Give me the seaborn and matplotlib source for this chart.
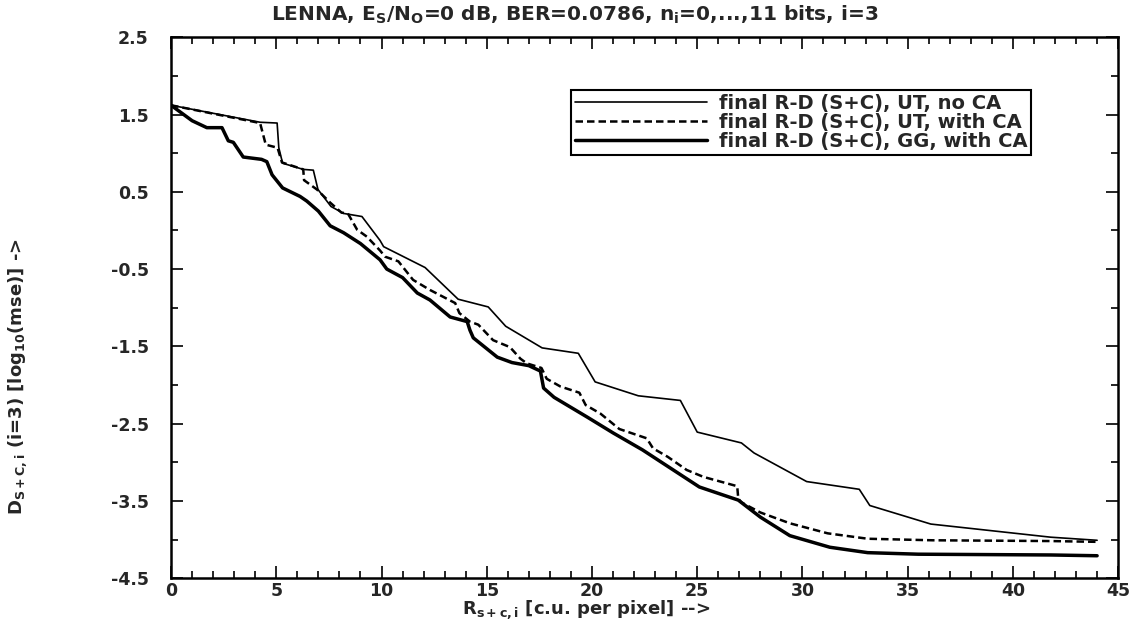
import numpy as np
import pandas as pd
import matplotlib
matplotlib.use("Agg")
import matplotlib.pyplot as plt
import seaborn as sns
from matplotlib.ticker import MultipleLocator, FixedLocator

# ---------------- data ----------------
labels = ["final R-D (S+C), UT, no CA",
          "final R-D (S+C), UT, with CA",
          "final R-D (S+C), GG, with CA"]

x_ut_noca = [0, 4.23, 5.04, 5.12, 5.3, 6.28, 6.76, 6.98, 7.6, 8.2, 9.07, 9.93, 10.1,
             12.07, 13.64, 15.07, 15.9, 17.63, 19.35, 20.15, 22.2, 24.2, 25.0, 27.1,
             27.7, 30.2, 32.7, 33.2, 36.1, 41.8, 44.0]
y_ut_noca = [1.62, 1.40, 1.39, 1.07, 0.87, 0.79, 0.78, 0.53, 0.31, 0.22, 0.18, -0.13, -0.21,
             -0.48, -0.89, -0.99, -1.24, -1.52, -1.59, -1.96, -2.14, -2.20, -2.61, -2.75,
             -2.88, -3.25, -3.35, -3.56, -3.80, -3.97, -4.01]

x_ut_ca = [0, 4.23, 4.5, 5.06, 5.27, 6.28, 6.32, 6.93, 7.56, 8.1, 8.4, 8.84, 9.3, 9.93,
           10.17, 10.8, 11.5, 12.3, 13.5, 13.7, 14.2, 14.6, 15.3, 16.1, 16.6, 16.9, 17.6,
           17.85, 18.5, 19.4, 19.7, 20.4, 21.3, 22.6, 22.9, 23.6, 24.5, 25.3, 26.9, 26.95,
           27.1, 28.0, 29.4, 31.2, 33.1, 36.2, 41.8, 44.0]
y_ut_ca = [1.62, 1.39, 1.11, 1.07, 0.88, 0.79, 0.65, 0.53, 0.36, 0.23, 0.22, 0.01, -0.08, -0.26,
           -0.34, -0.40, -0.64, -0.77, -0.94, -1.07, -1.18, -1.22, -1.42, -1.51, -1.66, -1.72, -1.78,
           -1.92, -2.02, -2.10, -2.26, -2.37, -2.57, -2.69, -2.82, -2.93, -3.10, -3.19, -3.31, -3.47,
           -3.52, -3.65, -3.79, -3.92, -3.99, -4.01, -4.02, -4.03]

x_gg_ca = [0, 1.0, 1.7, 2.42, 2.72, 2.96, 3.43, 4.3, 4.55, 4.8, 5.3, 6.13, 6.45, 7.0, 7.56,
           8.2, 9.0, 9.93, 10.25, 11.0, 11.7, 12.3, 13.26, 14.07, 14.2, 14.36, 15.5, 16.2,
           17.0, 17.55, 17.7, 18.2, 19.8, 21.0, 22.4, 25.1, 26.95, 28.0, 29.4, 31.3, 33.1,
           35.5, 41.8, 44.0]
y_gg_ca = [1.62, 1.42, 1.33, 1.33, 1.16, 1.14, 0.95, 0.92, 0.89, 0.72, 0.55, 0.44, 0.38, 0.25, 0.06,
           -0.03, -0.17, -0.38, -0.50, -0.61, -0.81, -0.90, -1.12, -1.18, -1.29, -1.39, -1.64, -1.71,
           -1.75, -1.82, -2.04, -2.16, -2.42, -2.62, -2.84, -3.32, -3.49, -3.71, -3.95, -4.10, -4.17,
           -4.19, -4.20, -4.21]

x_major = [0, 5, 10, 15, 20, 25, 30, 35, 40, 45]
y_major = [2.5, 1.5, 0.5, -0.5, -1.5, -2.5, -3.5, -4.5]

title = (r"LENNA, E$_\mathregular{S}$/N$_\mathregular{O}$=0 dB, BER=0.0786, "
         r"n$_\mathregular{i}$=0,...,11 bits, i=3")
xlabel = r"R$_\mathregular{s+c,i}$ [c.u. per pixel] -->"
ylabel = r"D$_\mathregular{S+C,i}$ (i=3) [log$_\mathregular{10}$(mse)] ->"

# ---------------- style ----------------
sns.set_style("ticks")
plt.rcParams["font.family"] = ["DejaVu Sans"]
plt.rcParams["axes.unicode_minus"] = False
plt.rcParams["mathtext.fontset"] = "custom"
plt.rcParams["mathtext.rm"] = "DejaVu Sans"

fig = plt.figure(figsize=(11.48, 6.21), dpi=100)
ax = fig.add_axes([0.149, 0.069, 0.825, 0.871])

series = [
    (x_ut_noca, y_ut_noca, labels[0], dict(lw=1.2, ls="-")),
    (x_ut_ca, y_ut_ca, labels[1], dict(lw=1.8, ls=(0, (3.0, 1.6)))),
    (x_gg_ca, y_gg_ca, labels[2], dict(lw=2.5, ls="-")),
]
for xs, ys, lab, st in series:
    df = pd.DataFrame({"x": xs, "y": ys})
    sns.lineplot(data=df, x="x", y="y", ax=ax, sort=False, estimator=None,
                 color="black", label=lab, linewidth=st["lw"], linestyle=st["ls"])

ax.set_xlim(0, 45)
ax.set_ylim(-4.5, 2.5)
ax.xaxis.set_major_locator(FixedLocator(x_major))
ax.xaxis.set_minor_locator(MultipleLocator(1))
ax.yaxis.set_major_locator(FixedLocator(y_major))
ax.yaxis.set_minor_locator(MultipleLocator(1))
ax.set_xticklabels([str(v) for v in x_major])
ax.set_yticklabels([f"{v:.1f}" for v in y_major])

ax.tick_params(which="both", direction="in", top=True, right=True, color="black",
               width=1.2)
ax.tick_params(which="major", length=8.5, labelsize=12.5)
ax.tick_params(which="minor", length=5)
ax.tick_params(axis="y", which="major", pad=16)
ax.tick_params(axis="x", which="major", pad=2.5)
for lbl in ax.get_xticklabels() + ax.get_yticklabels():
    lbl.set_fontweight("bold")
for sp in ax.spines.values():
    sp.set_visible(True)
    sp.set_linewidth(1.8)
    sp.set_color("black")

fig.text(575 / 1148, 1 - 15 / 621, title, fontsize=14.5, fontweight="bold",
         ha="center", va="center")
ax.set_xlabel(xlabel, fontsize=13, fontweight="bold")
ax.xaxis.set_label_coords(0.438, -0.037)
ax.set_ylabel(ylabel, fontsize=13, fontweight="bold")
ax.yaxis.set_label_coords(-0.150, 0.372)

leg = ax.legend(loc="upper right", bbox_to_anchor=(0.908, 0.902),
                prop={"weight": "bold", "size": 14},
                handlelength=6.8, handletextpad=0.6, labelspacing=0.0,
                borderpad=0.2, borderaxespad=0, fancybox=False, frameon=True,
                edgecolor="black", framealpha=1)
leg.get_frame().set_linewidth(1.5)

fig.savefig("out.png", dpi=100, facecolor="white")
